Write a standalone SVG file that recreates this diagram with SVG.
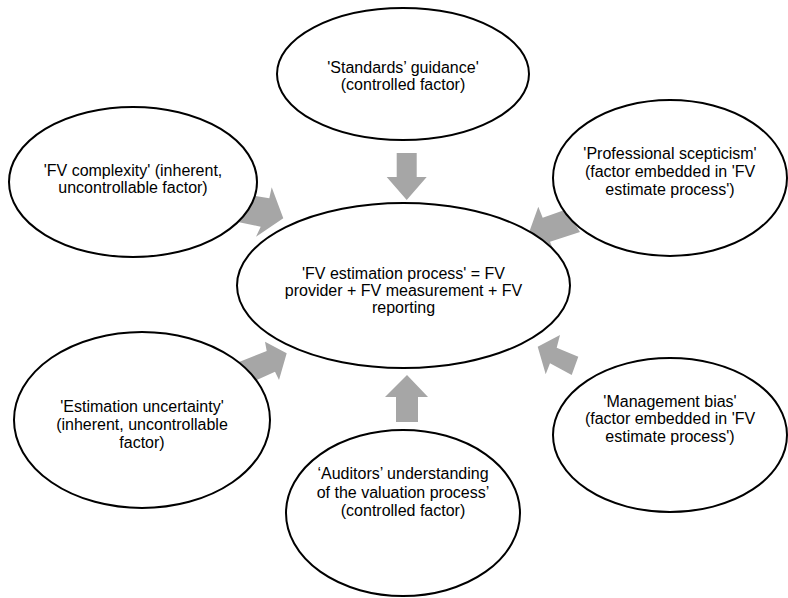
<svg xmlns="http://www.w3.org/2000/svg" width="788" height="598" viewBox="0 0 788 598">
<style>
.node ellipse{fill:#fff;stroke:#000;stroke-width:2}
.node text{font-family:"Liberation Sans",Arial,sans-serif;font-size:16px;fill:#000;text-anchor:middle}
.conn polygon{fill:#a6a6a6;stroke:none}
</style>
<rect width="788" height="598" fill="#fff"/>
<g id="connectors" class="conn">
<polygon points="396.7,153 416.7,153 416.7,177 426.7,177 406.7,200 386.7,177 396.7,177"/>
<polygon points="396,422 418,422 418,397 428,397 407,375 385,397 396,397"/>
<polygon points="283.3,218.3 271.7,187.3 269.3,198.3 252,195.5 238,222 260.7,226.7 256,236.7"/>
<polygon points="529.3,231.7 538.3,206.7 542.7,217.7 566,209.5 580,232 550,241.7 553.3,250"/>
<polygon points="286.7,353.3 265,341.7 266.7,351 234,364 250,383 275,371.7 279,380"/>
<polygon points="537.7,346.7 560,335 556.7,347.7 578.3,356.7 571.7,375 550,363.3 545.7,374.3"/>
</g>
<g id="center" class="node">
<ellipse cx="403.5" cy="285.5" rx="166.5" ry="82.5"/>
<text x="403.5" y="279">'FV estimation process' = FV</text>
<text x="403.5" y="296">provider + FV measurement + FV</text>
<text x="403.5" y="313">reporting</text>
</g>
<g id="standards" class="node">
<ellipse cx="403" cy="74" rx="126" ry="66"/>
<text x="403" y="72.5">'Standards’ guidance'</text>
<text x="403" y="90">(controlled factor)</text>
</g>
<g id="fv-complexity" class="node">
<ellipse cx="133" cy="182" rx="124" ry="75"/>
<text x="133" y="176">'FV complexity' (inherent,</text>
<text x="133" y="193">uncontrollable factor)</text>
</g>
<g id="scepticism" class="node">
<ellipse cx="670" cy="178" rx="117" ry="78"/>
<text x="670" y="159">'Professional scepticism'</text>
<text x="670" y="177">(factor embedded in 'FV</text>
<text x="670" y="195">estimate process')</text>
</g>
<g id="estimation-uncertainty" class="node">
<ellipse cx="142" cy="420" rx="128" ry="88"/>
<text x="142" y="412">'Estimation uncertainty'</text>
<text x="142" y="430">(inherent, uncontrollable</text>
<text x="142" y="448">factor)</text>
</g>
<g id="auditors" class="node">
<ellipse cx="403" cy="513" rx="117" ry="83"/>
<text x="403" y="479">‘Auditors’ understanding</text>
<text x="403" y="497.5">of the valuation process’</text>
<text x="403" y="516">(controlled factor)</text>
</g>
<g id="management-bias" class="node">
<ellipse cx="670" cy="435" rx="117" ry="77"/>
<text x="670" y="406.5">'Management bias'</text>
<text x="670" y="424">(factor embedded in 'FV</text>
<text x="670" y="441.5">estimate process')</text>
</g>
</svg>
